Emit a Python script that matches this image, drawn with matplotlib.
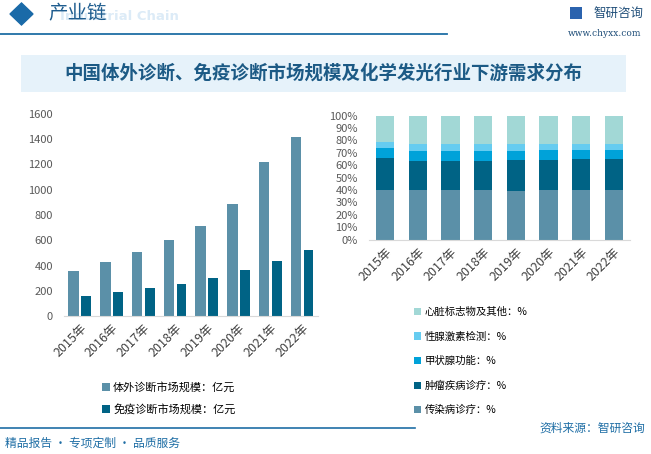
import numpy as np
import matplotlib.pyplot as plt
from matplotlib.patches import Rectangle, Polygon
from matplotlib.lines import Line2D

plt.rcParams['font.family'] = ['Noto Sans CJK SC', 'DejaVu Sans']

# 数据
years = ['2015年', '2016年', '2017年', '2018年', '2019年', '2020年', '2021年', '2022年']
ivd_market = [357, 428, 508, 603, 714, 889, 1222, 1421]
immuno_market = [159, 190, 222, 254, 302, 365, 437, 524]

infect = [40.1, 40.0, 40.0, 40.0, 39.2, 40.0, 40.0, 40.0]
tumor = [25.8, 23.4, 23.4, 23.4, 25.0, 24.2, 25.1, 25.1]
thyroid = [8.0, 8.1, 8.1, 8.1, 7.3, 8.1, 7.2, 7.2]
hormone = [4.9, 5.7, 5.7, 5.7, 5.7, 4.9, 4.9, 4.9]
heart = [21.2, 22.8, 22.8, 22.8, 22.8, 22.8, 22.8, 22.8]

W, H = 651, 454
fig = plt.figure(figsize=(6.51, 4.54), dpi=100)
fig.patch.set_facecolor('white')


def fx(px):
    return px / W


def fy(py):
    return 1 - py / H


def box(l, t, r, b):
    return [fx(l), fy(b), fx(r) - fx(l), (b - t) / H]


blue = '#1f6ea5'

# 页眉
fig.patches.append(Polygon([[fx(10), fy(14)], [fx(21.5), fy(3)], [fx(33), fy(14)], [fx(21.5), fy(25)]],
                           closed=True, transform=fig.transFigure, color='#1a6aa8'))
fig.text(fx(60), fy(17), 'Industrial Chain', fontsize=9.5, color='#dcebf7', fontweight='bold',
         va='center', ha='left', family='DejaVu Sans', zorder=1)
fig.text(fx(48), fy(14), '产业链', fontsize=14, color='#1f5d8f', va='center', ha='left', zorder=2)
fig.lines.append(Line2D([0, fx(447)], [fy(34), fy(34)], transform=fig.transFigure, color=blue, lw=1.3))
fig.patches.append(Rectangle((fx(570), fy(19)), 12 / W, 12 / H, transform=fig.transFigure,
                             facecolor='#2b63ae', edgecolor='none'))
fig.text(fx(593), fy(13), '智研咨询', fontsize=9, color='#1f4e79', va='center', ha='left')
fig.text(fx(568), fy(33.5), 'www.chyxx.com', fontsize=6.5, color='#1f4e79', va='center', ha='left',
         family='DejaVu Serif')

# 标题
fig.patches.append(Rectangle((fx(21), fy(92)), (626 - 21) / W, (92 - 55) / H, transform=fig.transFigure,
                             facecolor='#e6f2fa', edgecolor='none'))
fig.text(fx(323), fy(73.5), '中国体外诊断、免疫诊断市场规模及化学发光行业下游需求分布', fontsize=13.3,
         color='#1c5a85', fontweight='bold', va='center', ha='center')

# 左图：市场规模
ax1 = fig.add_axes(box(64, 114, 318, 316))
x = np.arange(len(years))
b1 = ax1.bar(x - 0.2, ivd_market, 0.33, color='#5b90a8', label='体外诊断市场规模：亿元')
b2 = ax1.bar(x + 0.2, immuno_market, 0.31, color='#006385', label='免疫诊断市场规模：亿元')
ax1.set_xlim(-0.5, 7.5)
ax1.set_ylim(0, 1600)
ax1.set_yticks(range(0, 1601, 200))
ax1.set_xticks(x)
ax1.set_xticklabels(years, rotation=45, ha='right', rotation_mode='anchor', fontsize=9, color='#404040')
ax1.tick_params(axis='y', length=0, labelsize=8, labelcolor='#595959', pad=8)
ax1.tick_params(axis='x', length=0, pad=4)
for s in ['top', 'right', 'left']:
    ax1.spines[s].set_visible(False)
ax1.spines['bottom'].set_color('#d9d9d9')
ax1.legend(handles=[b1, b2], loc='upper left', bbox_to_anchor=(fx(102), fy(382)),
           bbox_transform=fig.transFigure, frameon=False, fontsize=8, handlelength=0.7,
           handleheight=0.7, handletextpad=0.3, labelspacing=1.0, borderpad=0, borderaxespad=0)

# 右图：下游需求分布
ax2 = fig.add_axes(box(369, 115.7, 630, 239.7))
series = [('传染病诊疗：%', infect, '#5b90a8'),
          ('肿瘤疾病诊疗：%', tumor, '#006385'),
          ('甲状腺功能：%', thyroid, '#00a2d9'),
          ('性腺激素检测：%', hormone, '#66ccf0'),
          ('心脏标志物及其他：%', heart, '#a2d8d6')]
bottom = np.zeros(len(years))
handles = []
for name, vals, c in series:
    v = np.array(vals) / 100
    h = ax2.bar(x, v, 0.56, bottom=bottom, color=c, label=name)
    handles.append(h)
    bottom += v
ax2.set_xlim(-0.5, 7.5)
ax2.set_ylim(0, 1)
ax2.set_yticks(np.linspace(0, 1, 11))
ax2.set_yticklabels([f'{i}%' for i in range(0, 101, 10)])
ax2.set_xticks(x)
ax2.set_xticklabels(years, rotation=45, ha='right', rotation_mode='anchor', fontsize=9, color='#404040')
ax2.tick_params(axis='y', length=0, labelsize=8, labelcolor='#595959', pad=8)
ax2.tick_params(axis='x', length=0, pad=4)
for s in ['top', 'right', 'left']:
    ax2.spines[s].set_visible(False)
ax2.spines['bottom'].set_color('#d9d9d9')
ax2.legend(handles=handles[::-1], loc='upper left', bbox_to_anchor=(fx(414), fy(307)),
           bbox_transform=fig.transFigure, frameon=False, fontsize=7.5, handlelength=0.7,
           handleheight=0.7, handletextpad=0.3, labelspacing=1.38, borderpad=0, borderaxespad=0)

# 页脚
fig.lines.append(Line2D([0, fx(415)], [fy(428), fy(428)], transform=fig.transFigure, color=blue, lw=1.2))
fig.text(fx(645), fy(428), '资料来源：智研咨询', fontsize=8.5, color=blue, va='center', ha='right')
fig.text(fx(5), fy(443), '精品报告 · 专项定制 · 品质服务', fontsize=8.5, color=blue, va='center', ha='left')

fig.savefig('out.png', dpi=100)
